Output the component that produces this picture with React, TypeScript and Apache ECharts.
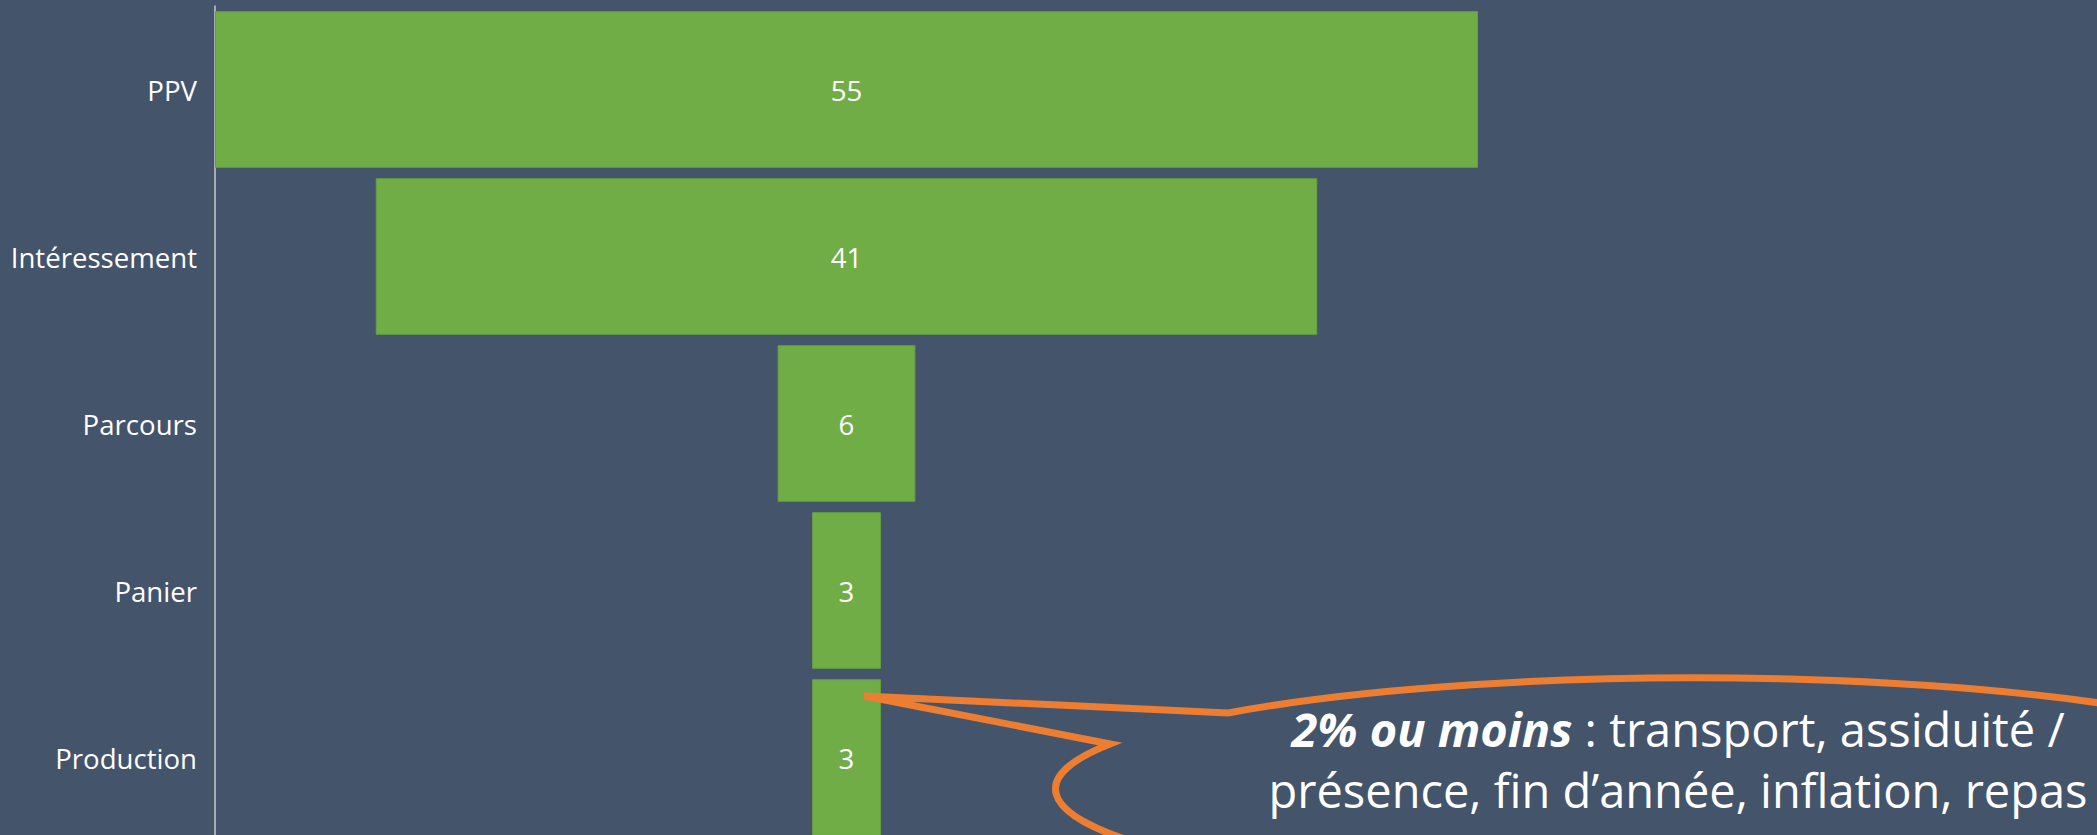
import React, { useEffect, useRef } from "react";
import * as echarts from "echarts";

const categories = ["PPV", "Intéressement", "Parcours", "Panier", "Production"];
const values = [55, 41, 6, 3, 3];
const calloutBold = "2% ou moins";
const calloutLine1 = " : transport, assiduité /";
const calloutLine2 = "présence, fin d’année, inflation, repas";

const BG = "#44546A";
const GREEN = "#70AD47";
const ORANGE = "#ED7D31";
const FONT = "'Open Sans', 'Noto Sans', sans-serif";

export default function App() {
  const ref = useRef<HTMLDivElement>(null);

  useEffect(() => {
    if (!ref.current) return;
    const chart = echarts.init(ref.current, undefined, { renderer: "svg" });
    const maxV = Math.max(...values);
    const offsets = values.map((v) => (maxV - v) / 2);

    echarts.graphic.registerShape(
      "callout",
      echarts.graphic.extendPath(
        "M 1228 713 A 639 111 0 1 1 1110 744 L 864 696 Z",
        {}
      )
    );

    chart.setOption({
      animation: false,
      backgroundColor: BG,
      grid: { left: 215, top: 6, width: 1263, bottom: 0, containLabel: false },
      xAxis: {
        type: "value",
        min: 0,
        max: maxV,
        show: false,
      },
      yAxis: {
        type: "category",
        data: categories,
        inverse: true,
        axisTick: { show: false },
        axisLine: { show: true, lineStyle: { color: "#C8C8C8", width: 1.5 } },
        axisLabel: {
          color: "#FFFFFF",
          fontSize: 27.6,
          fontFamily: FONT,
          margin: 18,
        },
        splitLine: { show: false },
      },
      series: [
        {
          type: "bar",
          stack: "funnel",
          data: offsets,
          itemStyle: { color: "transparent" },
          silent: true,
          barCategoryGap: "6.2%",
        },
        {
          type: "bar",
          stack: "funnel",
          data: values,
          barCategoryGap: "6.2%",
          itemStyle: { color: GREEN, borderColor: "#63A03E", borderWidth: 1 },
          label: {
            show: true,
            position: "inside",
            color: "#FFFFFF",
            fontSize: 27.6,
            fontFamily: FONT,
          },
        },
      ],
      graphic: [
        {
          type: "callout",
          x: 0,
          y: 0,
          z: 100,
          style: { fill: "none", stroke: ORANGE, lineWidth: 7, lineJoin: "miter" },
        },
        {
          type: "text",
          x: 1678,
          y: 759,
          z: 101,
          style: {
            text: "{b|" + calloutBold + "}{r|" + calloutLine1 + "}\n{r|" + calloutLine2 + "}",
            align: "center",
            verticalAlign: "middle",
            fill: "#FFFFFF",
            fontSize: 47,
            fontFamily: FONT,
            lineHeight: 61,
            rich: {
              b: {
                fontSize: 47,
                fontFamily: FONT,
                fontWeight: "bold",
                fontStyle: "italic",
                color: "#FFFFFF",
                lineHeight: 61,
              },
              r: {
                fontSize: 47,
                fontFamily: FONT,
                color: "#FFFFFF",
                lineHeight: 61,
              },
            },
          },
        },
      ],
    });

    return () => chart.dispose();
  }, []);

  return (
    <div
      ref={ref}
      style={{
        position: "fixed",
        left: 0,
        top: 0,
        width: 2097,
        height: 841,
        background: BG,
      }}
    />
  );
}
